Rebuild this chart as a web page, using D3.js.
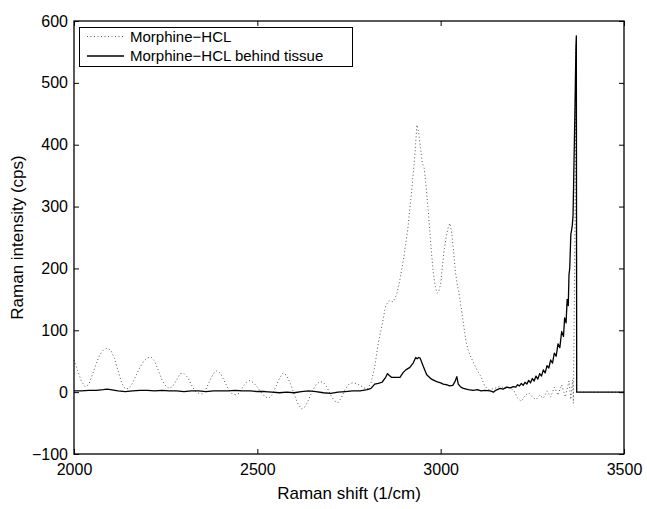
<!DOCTYPE html>
<html>
<head>
<meta charset="utf-8">
<script src="https://cdn.jsdelivr.net/npm/d3@7/dist/d3.min.js"></script>
<style>
  html, body { margin: 0; padding: 0; background: #fff; }
  svg { display: block; }
  text { font-family: "Liberation Sans", Arial, Helvetica, sans-serif; fill: #000; }
</style>
</head>
<body>
<svg id="chart" width="647" height="509"></svg>
<script>
// ---- Data ----
const seriesNames = ["Morphine\u2212HCL", "Morphine\u2212HCL behind tissue"];

const xTicks = [2000, 2500, 3000, 3500];
const yTicks = [-100, 0, 100, 200, 300, 400, 500, 600];

const pureShift = [2000,2010,2020,2030,2040,2050,2060,2070,2080,2090,2100,2110,2120,2130,2140,2150,2160,2170,2180,2190,
  2200,2210,2220,2230,2240,2250,2260,2270,2280,2290,2300,2310,2320,2330,2340,2350,2360,2370,2380,2390,
  2400,2410,2420,2430,2440,2450,2460,2470,2480,2490,2500,2510,2520,2530,2540,2550,2560,2570,2580,2590,
  2600,2610,2620,2630,2640,2650,2660,2670,2680,2690,2700,2710,2720,2730,2740,2750,2760,2770,2780,2790,
  2800,2810,2820,2830,2840,2850,2860,2870,2880,2890,2900,2910,2920,2930,2935,2940,2945,2950,2955,2960,
  2965,2970,2975,2980,2985,2990,2995,3000,3005,3010,3015,3020,3025,3030,3035,3040,3045,3050,3055,3060,
  3065,3070,3075,3080,3090,3100,3110,3120,3130,3140,3150,3160,3170,3180,3190,3200,3210,3220,3230,3240,
  3250,3260,3270,3280,3290,3300,3310,3320,3330,3340,3350,3355,3360,3362,3366,3369,3371,3500];
const pureIntensity = [52,35,18,9,12,28,45,60,68,71,68,55,35,15,5,6,15,28,40,50,
  55,57,50,35,20,10,6,10,20,30,30,24,12,2,-2,-3,5,18,30,35,
  30,18,6,-2,-4,-2,8,16,19,15,8,0,-7,-10,-5,8,22,31,27,14,
  -2,-18,-27,-24,-12,2,12,17,16,8,-5,-14,-17,-8,5,13,15,14,11,7,
  5,15,40,80,108,140,148,146,158,185,220,262,320,385,432,420,395,370,362,335,
  300,265,225,192,172,160,163,175,205,232,250,265,273,258,230,195,175,160,140,120,
  98,80,68,60,47,35,25,10,4,5,7,9,8,6,7,2,-10,-15,-6,-1,
  -8,-12,-5,-10,2,-8,8,-5,12,-8,18,-12,20,-18,250,560,0,0];

const tissueShift = [2000,2020,2040,2060,2080,2090,2100,2120,2140,2160,2180,2200,2220,2240,2260,2280,2300,2320,2340,2360,
  2380,2400,2420,2440,2460,2480,2500,2520,2540,2560,2580,2600,2620,2640,2660,2680,2700,2720,2740,2760,
  2780,2800,2810,2820,2830,2840,2850,2855,2860,2866,2880,2889,2898,2905,2916,2925,2932,2936,2940,2944,
  2953,2962,2975,2989,3000,3007,3015,3025,3033,3039,3044,3048,3055,3062,3075,3089,3100,3110,3120,3135,
  3144,3150,3162,3170,3180,3190,3198,3205,3210,3215,3220,3225,3230,3235,3240,3245,3250,3255,3260,3265,
  3270,3275,3280,3285,3290,3295,3300,3305,3310,3315,3320,3325,3330,3335,3338,3342,3345,3348,3350,3352,
  3355,3357,3359,3361,3363,3366,3369,3370,3371,3500];
const tissueIntensity = [2,2,3,3,4,5,4,2,1,2,3,3,2,3,2,2,1,2,2,1,
  2,2,2,3,2,2,1,1,0,-1,0,-1,1,2,1,-1,-2,0,1,2,
  2,4,6,13,14,16,24,30,27,24,24,24,32,36,40,47,56,54,56,55,
  41,28,21,17,15,13,12,10,11,17,25,13,8,6,4,3,4,2,3,2,
  0,3,6,5,8,7,9,8,12,10,14,11,16,13,19,15,22,18,26,21,
  30,26,36,31,43,39,52,47,63,58,78,72,98,90,120,112,150,140,190,200,
  255,262,270,285,350,450,560,576,0,0];

// ---- Layout ----
const plot = { left: 74, right: 624, top: 21, bottom: 454 };

const svg = d3.select("#chart");

const x = d3.scaleLinear().domain([2000, 3500]).range([plot.left, plot.right]);
const y = d3.scaleLinear().domain([-100, 600]).range([plot.bottom, plot.top]);

svg.append("defs").append("clipPath").attr("id", "clip")
  .append("rect").attr("x", plot.left).attr("y", plot.top)
  .attr("width", plot.right - plot.left).attr("height", plot.bottom - plot.top);

const line = d3.line().x(d => x(d[0])).y(d => y(d[1]));

const pureData = pureShift.map((s, i) => [s, pureIntensity[i]]);
const tissueData = tissueShift.map((s, i) => [s, tissueIntensity[i]]);

const g = svg.append("g").attr("clip-path", "url(#clip)");
g.append("path").datum(pureData)
  .attr("d", line).attr("fill", "none")
  .attr("stroke", "#555").attr("stroke-width", 1)
  .attr("stroke-dasharray", "1,2.5");
g.append("path").datum(tissueData)
  .attr("d", line).attr("fill", "none")
  .attr("stroke", "#000").attr("stroke-width", 1.3)
  .attr("stroke-linejoin", "round");

// Axes (ticks inward, box on)
const tickLen = 5;
const fontSize = 16;
const axB = svg.append("g").attr("transform", `translate(0,${plot.bottom})`)
  .call(d3.axisBottom(x).tickValues(xTicks).tickSize(-tickLen).tickPadding(10).tickFormat(d3.format("d")));
const axT = svg.append("g").attr("transform", `translate(0,${plot.top})`)
  .call(d3.axisTop(x).tickValues(xTicks).tickSize(-tickLen).tickFormat(""));
const axL = svg.append("g").attr("transform", `translate(${plot.left},0)`)
  .call(d3.axisLeft(y).tickValues(yTicks).tickSize(-tickLen).tickPadding(6).tickFormat(d => d < 0 ? "\u2212" + Math.abs(d) : d));
const axR = svg.append("g").attr("transform", `translate(${plot.right},0)`)
  .call(d3.axisRight(y).tickValues(yTicks).tickSize(-tickLen).tickFormat(""));

[axB, axT, axL, axR].forEach(a => {
  a.select(".domain").remove();
  a.selectAll(".tick line").attr("stroke", "#000").attr("stroke-width", 1);
  a.selectAll("text").style("font-size", fontSize + "px")
    .style("font-family", '"Liberation Sans", Arial, sans-serif').attr("fill", "#000");
});

svg.append("rect")
  .attr("x", plot.left).attr("y", plot.top)
  .attr("width", plot.right - plot.left).attr("height", plot.bottom - plot.top)
  .attr("fill", "none").attr("stroke", "#000").attr("stroke-width", 1.3);

// Axis titles
svg.append("text")
  .attr("x", (plot.left + plot.right) / 2).attr("y", 499)
  .attr("text-anchor", "middle").style("font-size", "17px")
  .text("Raman shift (1/cm)");
svg.append("text")
  .attr("transform", `translate(23,${(plot.top + plot.bottom) / 2}) rotate(-90)`)
  .attr("text-anchor", "middle").style("font-size", "17px")
  .text("Raman intensity (cps)");

// Legend
const leg = svg.append("g");
leg.append("rect").attr("x", 79.5).attr("y", 27.5).attr("width", 273).attr("height", 39)
  .attr("fill", "#fff").attr("stroke", "#000").attr("stroke-width", 1);
const legRows = [
  { name: seriesNames[0], dash: "1,2.5", color: "#555", w: 1, cy: 36.5 },
  { name: seriesNames[1], dash: null, color: "#000", w: 1.3, cy: 56 }
];
legRows.forEach(r => {
  const l = leg.append("line").attr("x1", 87).attr("x2", 124)
    .attr("y1", r.cy).attr("y2", r.cy)
    .attr("stroke", r.color).attr("stroke-width", r.w);
  if (r.dash) l.attr("stroke-dasharray", r.dash);
  leg.append("text").attr("x", 130).attr("y", r.cy).attr("dy", "0.35em")
    .style("font-size", "15px").text(r.name);
});
</script>
</body>
</html>
